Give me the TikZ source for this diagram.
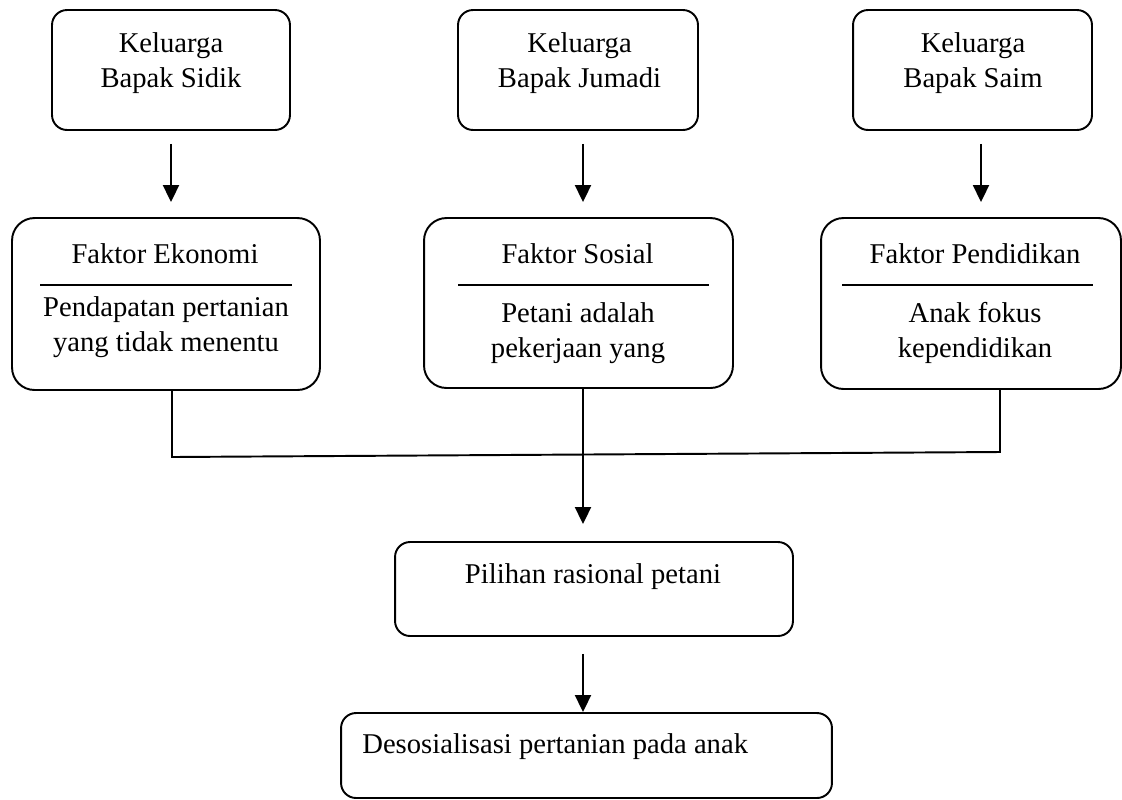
\documentclass[tikz,border=0pt]{standalone}
\usepackage{fontspec}
\setmainfont{Liberation Serif}
\usetikzlibrary{arrows.meta}
\newcommand{\teksukuran}{\fontsize{16.3}{19.4}\selectfont}

\begin{document}
\begin{tikzpicture}[x=0.02cm,y=-0.02cm,
  kotak/.style={draw,line width=1.1pt,rounded corners=0.3cm,inner sep=0pt},
  teks/.style={font=\teksukuran,align=center,anchor=base,inner sep=0pt},
  garis/.style={line width=1.1pt},
  panah/.style={line width=1.1pt,arrows={-Triangle[length=0.34cm,width=0.32cm]}}]
\fill[white] (0,0) rectangle (1122,799);
\useasboundingbox (0,0) rectangle (1122,799);

% keluarga
\node[kotak,minimum width=4.76cm,minimum height=2.4cm] (sidik) at (171,70) {};
\node[kotak,minimum width=4.8cm,minimum height=2.4cm] (jumadi) at (578,70) {};
\node[kotak,minimum width=4.78cm,minimum height=2.4cm] (saim) at (972.5,70) {};
\node[teks] (tsidik) at (171,87) {Keluarga\\Bapak Sidik};
\node[teks] (tjumadi) at (579.5,87) {Keluarga\\Bapak Jumadi};
\node[teks] (tsaim) at (973,87) {Keluarga\\Bapak Saim};

% faktor
\node[kotak,rounded corners=0.45cm,minimum width=6.16cm,minimum height=3.44cm] (ekonomi) at (166,304) {};
\node[kotak,rounded corners=0.45cm,minimum width=6.18cm,minimum height=3.4cm] (sosial) at (578.5,303) {};
\node[kotak,rounded corners=0.45cm,minimum width=6.0cm,minimum height=3.42cm] (pendidikan) at (971,303.5) {};
\node[teks] (tekonomi) at (165,263) {Faktor Ekonomi};
\node[teks] (tsosial) at (577.5,263) {Faktor Sosial};
\node[teks] (tpendidikan) at (975,263) {Faktor Pendidikan};
\draw[garis] (40,285) -- (292,285);
\draw[garis] (458,285) -- (709,285);
\draw[garis] (842,285) -- (1093,285);
\node[teks] (sebabekonomi) at (166,351) {Pendapatan pertanian\\yang tidak menentu};
\node[teks] (sebabsosial) at (578,357) {Petani adalah\\pekerjaan yang};
\node[teks] (sebabpendidikan) at (975,357) {Anak fokus\\kependidikan};

\node[kotak,minimum width=7.96cm,minimum height=1.88cm] (pilihan) at (594,589) {};
\node[teks] (tpilihan) at (593,583) {Pilihan rasional petani};
\node[kotak,minimum width=9.82cm,minimum height=1.7cm] (desos) at (586.5,755.5) {};
\node[teks,anchor=base west] (tdesos) at (362,753) {Desosialisasi pertanian pada anak};

\coordinate (kiri) at (172,457);
\coordinate (kanan) at (1000,452);
\coordinate (tengah) at (583,454.5);

\draw[panah,shorten <=0.26cm,shorten >=0.3cm] (sidik.south) -- (sidik.south |- ekonomi.north);
\draw[panah,shorten <=0.26cm,shorten >=0.3cm] ([xshift=0.1cm]jumadi.south) -- ([xshift=0.1cm]jumadi.south |- sosial.north);
\draw[panah,shorten <=0.26cm,shorten >=0.3cm] ([xshift=0.17cm]saim.south) -- ([xshift=0.17cm]saim.south |- pendidikan.north);
\draw[garis] (ekonomi.south -| kiri) -- (kiri) -- (kanan) -- (pendidikan.south -| kanan);
\draw[panah,shorten >=0.34cm] (sosial.south -| tengah) -- (tengah |- pilihan.north);
\draw[panah,shorten <=0.34cm] (pilihan.south -| tengah) -- (tengah |- desos.north);
\end{tikzpicture}
\end{document}
